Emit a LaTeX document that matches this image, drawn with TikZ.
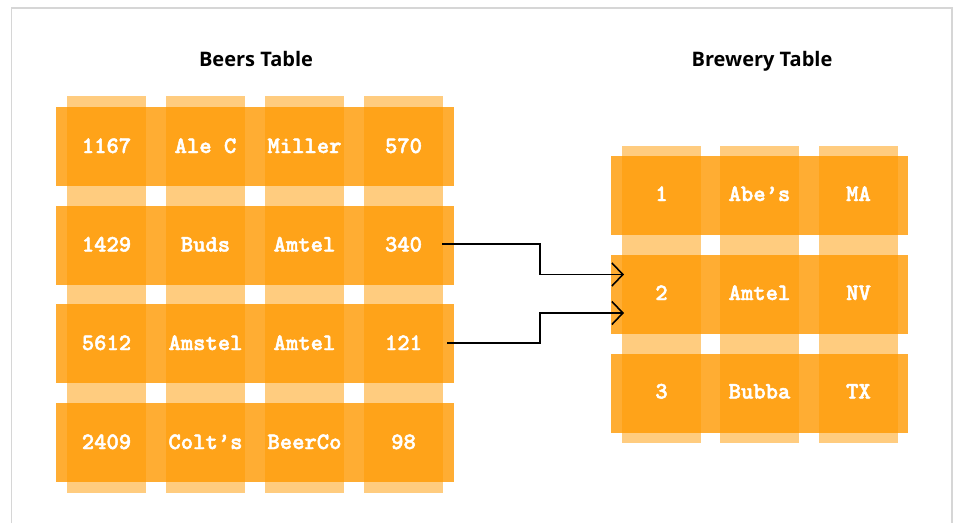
\documentclass[tikz,border=0pt]{standalone}
\usepackage{fontspec}
\setmainfont{Open Sans}
\newfontfamily\cellfont{lmmonolt10-bold.otf}[FakeBold=2]
\usetikzlibrary{arrows.meta}
\definecolor{barorange}{HTML}{FF9900}
\definecolor{framegray}{HTML}{D6D6D6}
\tikzset{
  colbar/.style={draw=none, fill=barorange, fill opacity=0.5, rectangle, inner sep=0pt},
  rowbar/.style={draw=none, fill=barorange, fill opacity=0.8, rectangle, inner sep=0pt},
  celltext/.style={anchor=base, text=white, inner sep=0pt, font=\cellfont\fontsize{23.5}{25}\selectfont},
  title/.style={anchor=base, inner sep=0pt, font=\bfseries\fontsize{20}{22}\selectfont},
  link/.style={line width=1.6pt, -{Straight Barb[length=11pt, width=23pt, line width=1.6pt]}}
}
\begin{document}
\begin{tikzpicture}[x=1pt, y=-1pt]
\useasboundingbox (0,0) rectangle (954,523);
% outer frame
\draw[framegray, line width=1.5pt] (11.5,523) -- (11.5,8) -- (952,8) -- (952,523);

% titles
\node[title] (beerstitle) at (256,66.5) {Beers Table};
\node[title] (brewtitle) at (762,66.5) {Brewery Table};

% Beers table: column bars, then row bars
\foreach \i/\x in {1/106.5, 2/205.5, 3/304.5, 4/403.5}
  \node[colbar, minimum width=79pt, minimum height=397pt] (bcol\i) at (\x,294.5) {};
\foreach \j/\y in {1/146.5, 2/245, 3/343.5, 4/442.5}
  \node[rowbar, minimum width=398pt, minimum height=79pt] (brow\j) at (255,\y) {};

% Beers table texts
\foreach \j/\y/\a/\b/\c/\d in {1/146.5/1167/Ale C/Miller/570,
                                2/245/1429/Buds/Amtel/340,
                                3/343.5/5612/Amstel/Amtel/121,
                                4/442.5/2409/Colt’s/BeerCo/98}{
  \node[celltext] (b\j a) at (106.5,\y+6.5) {\a};
  \node[celltext] (b\j b) at (205.5,\y+6.5) {\b};
  \node[celltext] (b\j c) at (304.5,\y+6.5) {\c};
  \node[celltext] (b\j d) at (403.5,\y+6.5) {\d};
}

% Brewery table: column bars, then row bars
\foreach \i/\x in {1/661.5, 2/759.5, 3/858.5}
  \node[colbar, minimum width=79pt, minimum height=297pt] (rcol\i) at (\x,294.5) {};
\foreach \j/\y in {1/195.5, 2/294.5, 3/393}
  \node[rowbar, minimum width=297pt, minimum height=79pt] (rrow\j) at (759.5,\y) {};

% Brewery table texts
\foreach \j/\y/\a/\b/\c in {1/195.5/1/Abe’s/MA,
                            2/294.5/2/Amtel/NV,
                            3/393/3/Bubba/TX}{
  \node[celltext] (r\j a) at (661.5,\y+5.5) {\a};
  \node[celltext] (r\j b) at (759.5,\y+5.5) {\b};
  \node[celltext] (r\j c) at (858.5,\y+5.5) {\c};
}

% foreign key links
\coordinate (linkAstart) at (442,244);
\coordinate (linkAend) at (624,274.5);
\coordinate (linkBstart) at (447,343);
\coordinate (linkBend) at (624,313);
\draw[link] (linkAstart) -- ++(98,0) |- (linkAend);
\draw[link] (linkBstart) -- ++(93,0) |- (linkBend);
\end{tikzpicture}
\end{document}
